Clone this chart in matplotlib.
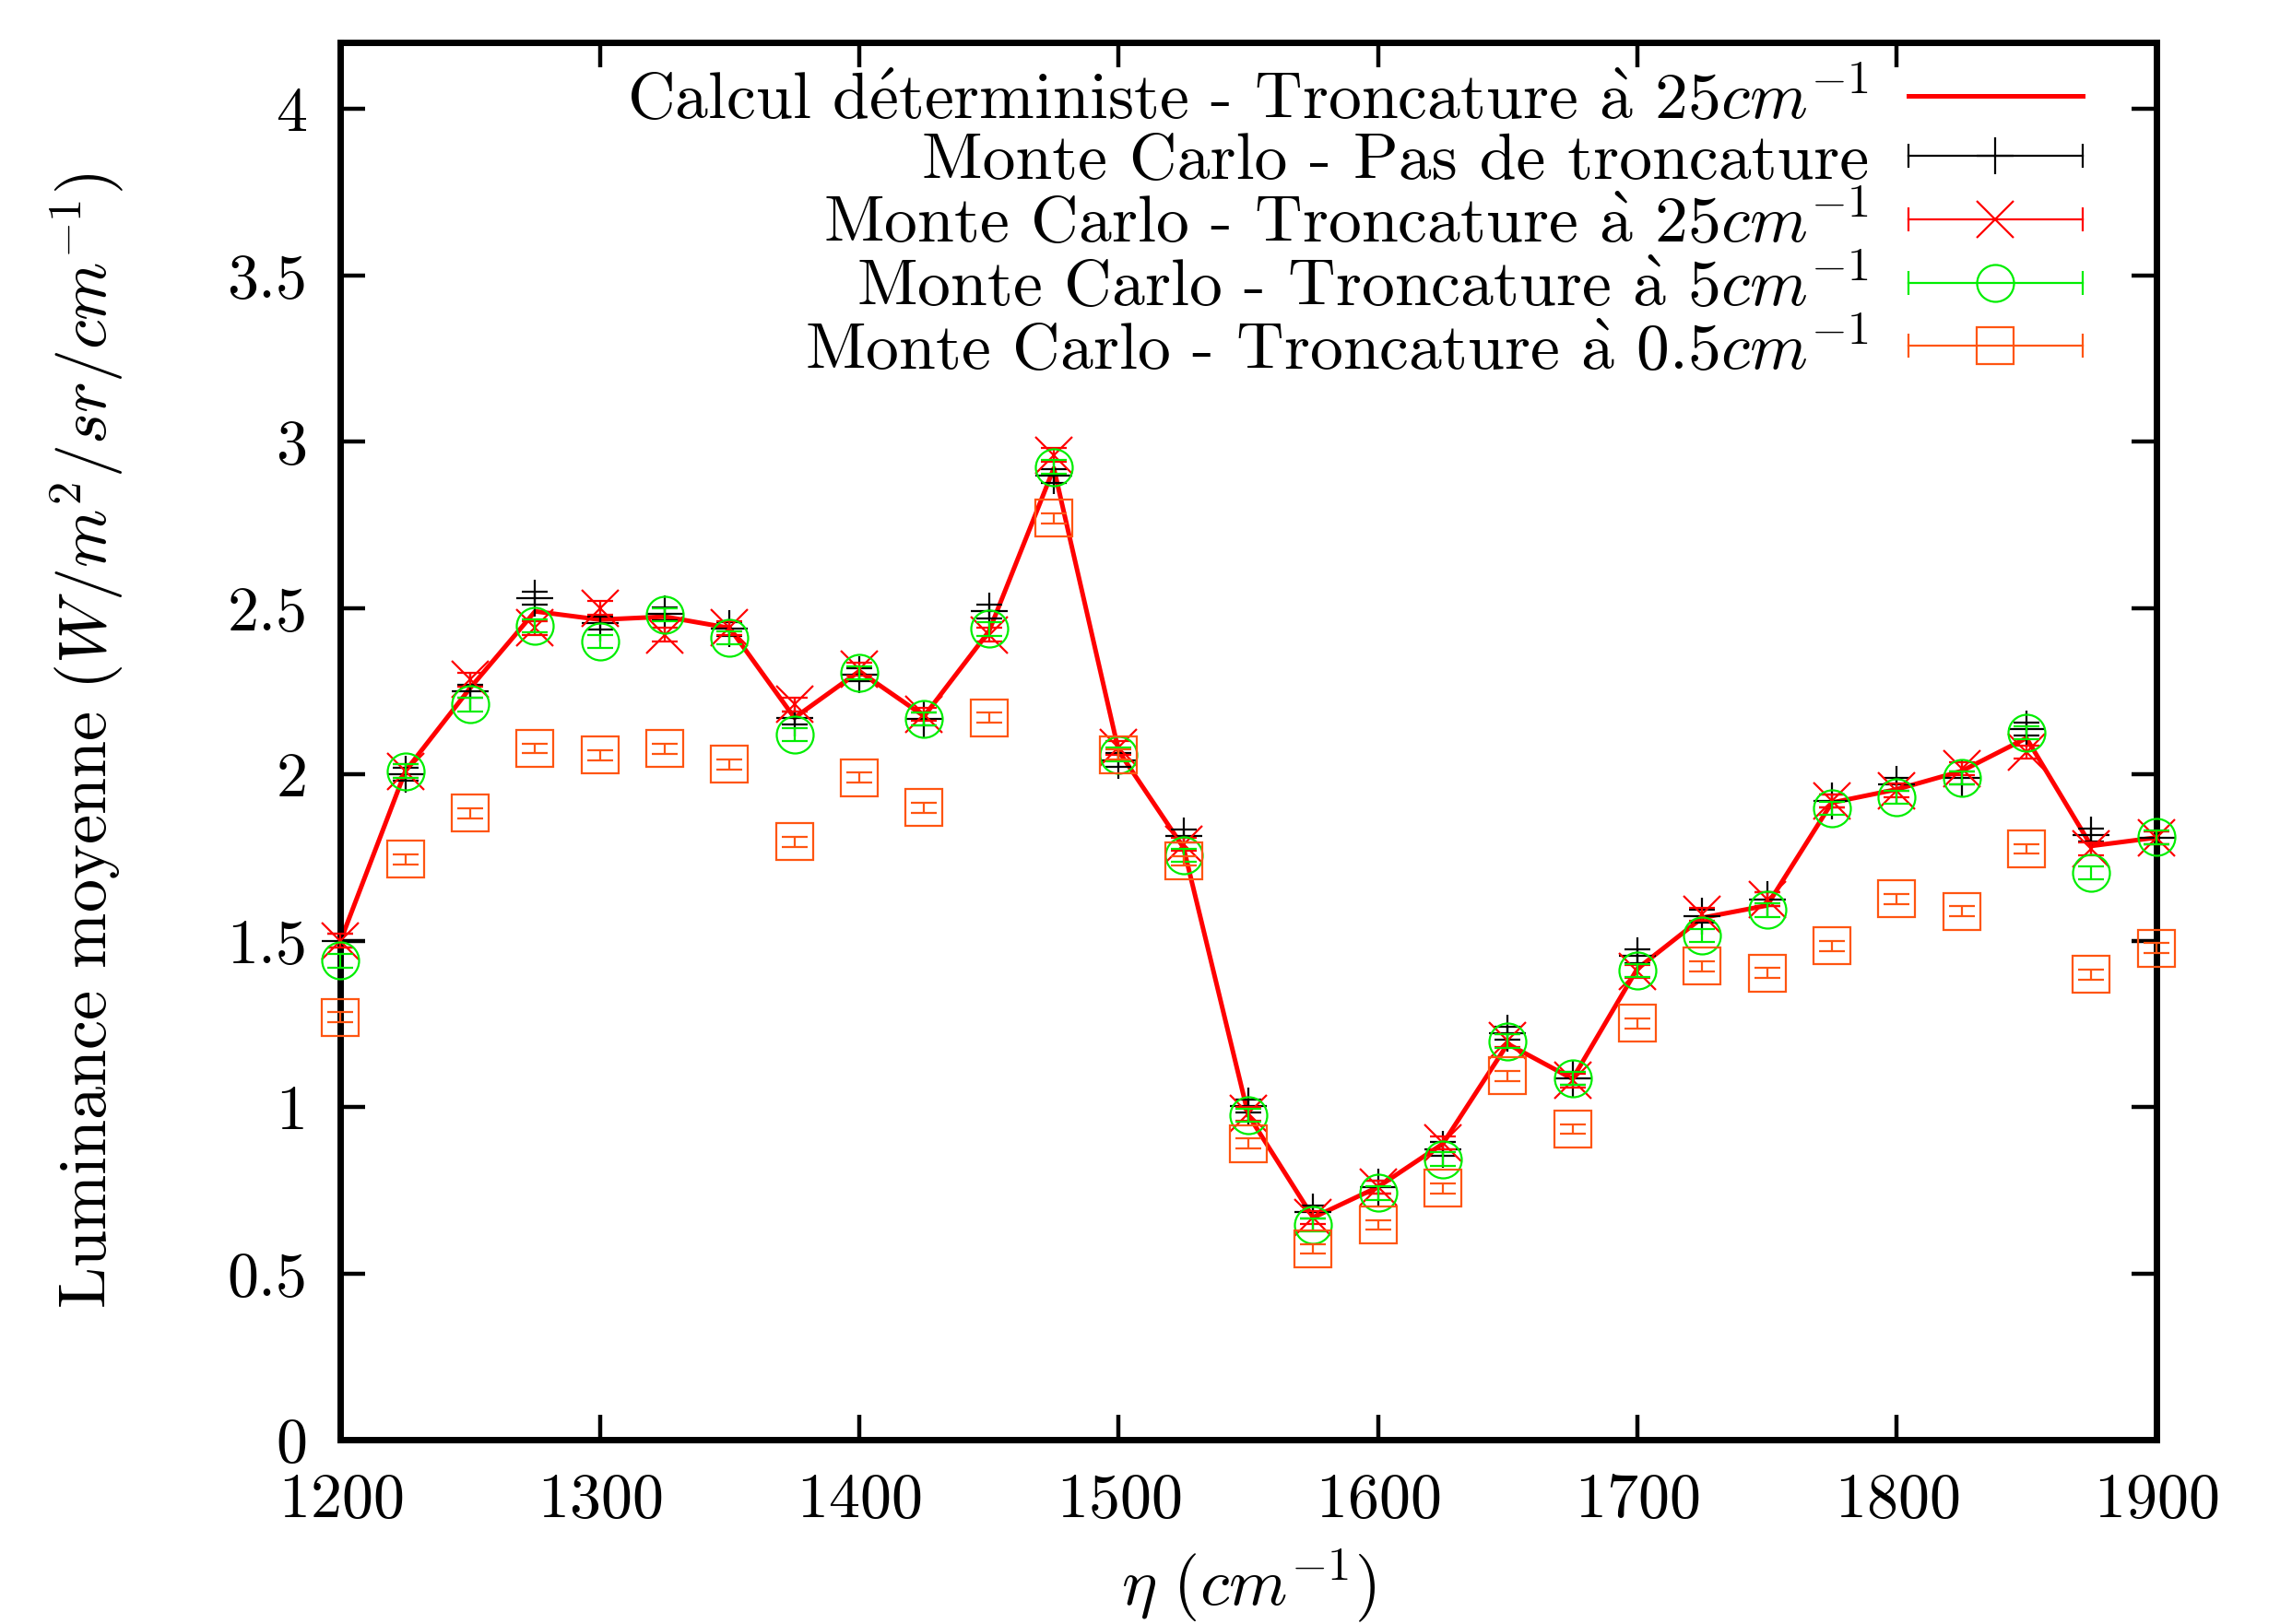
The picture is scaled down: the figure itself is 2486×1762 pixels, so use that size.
import matplotlib
matplotlib.use("Agg")
import matplotlib.pyplot as plt
from matplotlib.lines import Line2D
from matplotlib.legend_handler import HandlerLine2D

plt.rcParams['font.family'] = 'serif'
plt.rcParams['font.serif'] = ['cmr10']
plt.rcParams['mathtext.fontset'] = 'cm'
plt.rcParams['axes.formatter.use_mathtext'] = True

# nombre d'onde (cm-1)
wavenumber = [1200, 1225, 1250, 1275, 1300, 1325, 1350, 1375, 1400, 1425,
              1450, 1475, 1500, 1525, 1550, 1575, 1600, 1625, 1650, 1675,
              1700, 1725, 1750, 1775, 1800, 1825, 1850, 1875, 1900]

# calcul deterministe, troncature a 25 cm-1
deterministe = [1.50, 2.01, 2.26, 2.49, 2.465, 2.474, 2.44, 2.17, 2.31, 2.175,
                2.43, 2.92, 2.07, 1.78, 0.976, 0.668, 0.76, 0.89, 1.19, 1.085,
                1.416, 1.569, 1.606, 1.915, 1.955, 2.01, 2.109, 1.785, 1.81]

# Monte Carlo
mc_sans_troncature = [1.50, 2.00, 2.25, 2.53, 2.455, 2.483, 2.437, 2.17, 2.30, 2.166,
                      2.49, 2.897, 2.043, 1.815, 1.004, 0.685, 0.759, 0.874, 1.222, 1.087,
                      1.454, 1.574, 1.625, 1.92, 1.97, 1.99, 2.137, 1.818, 1.81]
mc_trunc_25 = [1.50, 2.01, 2.285, 2.44, 2.50, 2.42, 2.44, 2.21, 2.317, 2.18,
               2.42, 2.96, 2.08, 1.79, 0.98, 0.668, 0.76, 0.893, 1.20, 1.08,
               1.407, 1.579, 1.625, 1.92, 1.952, 2.017, 2.067, 1.776, 1.81]
mc_trunc_5 = [1.44, 2.01, 2.21, 2.446, 2.40, 2.479, 2.41, 2.12, 2.306, 2.166,
              2.437, 2.924, 2.06, 1.757, 0.976, 0.646, 0.742, 0.844, 1.198, 1.086,
              1.411, 1.516, 1.592, 1.898, 1.931, 1.989, 2.125, 1.704, 1.811]
mc_trunc_05 = [1.27, 1.745, 1.883, 2.078, 2.058, 2.077, 2.03, 1.797, 1.99, 1.90,
               2.17, 2.77, 2.06, 1.74, 0.89, 0.574, 0.646, 0.756, 1.094, 0.934,
               1.252, 1.424, 1.403, 1.484, 1.626, 1.589, 1.776, 1.399, 1.478]

# demi-largeur des barres d'erreur
err_sans_troncature = 0.02
err_trunc_25 = 0.02
err_trunc_5 = 0.02
err_trunc_05 = 0.015

xticks = [1200, 1300, 1400, 1500, 1600, 1700, 1800, 1900]
yticks = [0, 0.5, 1, 1.5, 2, 2.5, 3, 3.5, 4]
ytick_labels = ['0', '0.5', '1', '1.5', '2', '2.5', '3', '3.5', '4']

label_det = r"Calcul d$\mathrm{\acute{e}}$terministe - Troncature $\mathrm{\grave{a}}$ $25cm^{-1}$"
labels_mc = [r"Monte Carlo - Pas de troncature",
             r"Monte Carlo - Troncature $\mathrm{\grave{a}}$ $25cm^{-1}$",
             r"Monte Carlo - Troncature $\mathrm{\grave{a}}$ $5cm^{-1}$",
             r"Monte Carlo - Troncature $\mathrm{\grave{a}}$ $0.5cm^{-1}$"]

series_mc = [mc_sans_troncature, mc_trunc_25, mc_trunc_5, mc_trunc_05]
errors_mc = [err_sans_troncature, err_trunc_25, err_trunc_5, err_trunc_05]
colors_mc = ['black', '#ff0000', '#00ee00', '#ff5511']
markers_mc = ['+', 'x', 'o', 's']

FS = 24.5      # ticks
FS_LAB = 26    # axis labels
FS_LEG = 25.8  # legend
MS = 14.4

fig = plt.figure(figsize=(12.43, 8.81), dpi=200)
ax = fig.add_axes([0.1486, 0.1134, 0.7921, 0.8605])

ax.plot(wavenumber, deterministe, color='#ff0000', lw=1.8, zorder=2, clip_on=False)

handles = [Line2D([], [], color='#ff0000', lw=1.8)]
handler_map = {}
for i, (vals, err, c, m) in enumerate(zip(series_mc, errors_mc, colors_mc, markers_mc)):
    eb = ax.errorbar(wavenumber, vals, yerr=err, fmt='none', ecolor=c,
                     elinewidth=0.8, capsize=5.0, capthick=0.8, zorder=3 + i)
    for art in list(eb.lines[1]) + list(eb.lines[2]):
        art.set_clip_on(False)
    ax.plot(wavenumber, vals, linestyle='none', marker=m, ms=MS, mfc='none',
            mec=c, mew=0.8, zorder=3 + i, clip_on=False)
    cap = Line2D([], [], color=c, lw=0.8, marker='|', ms=9.7, mew=0.8)
    mk = Line2D([], [], color=c, linestyle='none', marker=m, ms=MS, mfc='none', mew=0.8)
    handler_map[cap] = HandlerLine2D(numpoints=2, marker_pad=0)
    handles.append((cap, mk))

ax.set_xlim(1200, 1900)
ax.set_ylim(0, 4.2)
ax.set_xticks(xticks)
ax.set_yticks(yticks)
ax.set_yticklabels(ytick_labels)
ax.tick_params(direction='in', top=True, right=True, length=9.6, width=1.6,
               labelsize=FS, pad=13)
for sp in ax.spines.values():
    sp.set_linewidth(2.5)

ax.set_xlabel(r"$\eta\ (cm^{-1})$", fontsize=FS_LAB)
ax.xaxis.set_label_coords(0.5, -0.077)
ax.set_ylabel(r"Luminance moyenne $(W/m^2/sr/cm^{-1})$", fontsize=FS_LAB)
ax.yaxis.set_label_coords(-0.118, 0.5)

ax.legend(handles, [label_det] + labels_mc, loc='upper right',
          bbox_to_anchor=(0.9596, 0.981), markerfirst=False,
          frameon=False, fontsize=FS_LEG, handlelength=2.64, handletextpad=0.6,
          borderaxespad=0, borderpad=0, labelspacing=0.015, handler_map=handler_map)

fig.savefig('out.png', dpi=200)
